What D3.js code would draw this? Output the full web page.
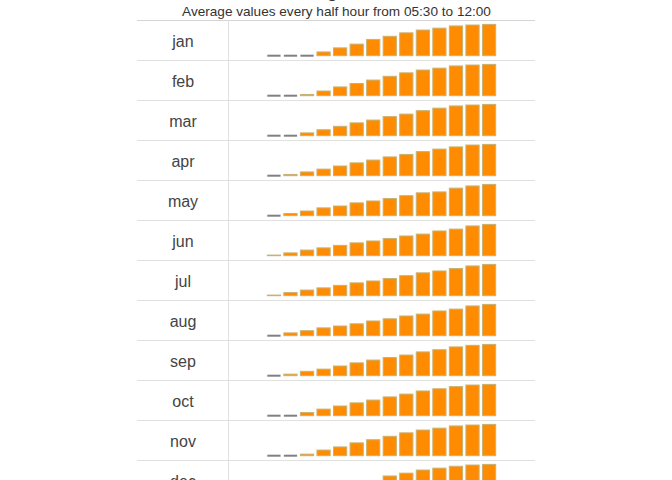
<!DOCTYPE html>
<html>
<head>
<meta charset="utf-8">
<script src="https://cdn.jsdelivr.net/npm/d3@7"></script>
<style>
  html, body { margin: 0; padding: 0; background: #fff; overflow: hidden; }
  svg { display: block; font-family: "Liberation Sans", Arial, sans-serif; }
</style>
</head>
<body>
<svg id="chart" width="672" height="480"></svg>
<script>
const months = ["jan","feb","mar","apr","may","jun","jul","aug","sep","oct","nov","dec"];
const slots = ["05:30","06:00","06:30","07:00","07:30","08:00","08:30","09:00","09:30","10:00","10:30","11:00","11:30","12:00"];
const titleText = "Sunlight";
const subtitleText = "Average values every half hour from 05:30 to 12:00";

const janValues = [0,0,0,12,25,37,52,62,73,82,88,95,98,100];
const febValues = [0,0,4,15,28,39,50,62,73,82,88,95,98,100];
const marValues = [0,0,9,19,30,41,50,61,69,80,88,95,98,100];
const aprValues = [0,4,12,21,31,41,50,60,68,77,85,92,98,100];
const mayValues = [0,7,15,25,31,41,47,55,64,73,76,88,95,100];
const junValues = [2,9,18,25,33,41,47,55,63,69,79,85,95,100];
const julValues = [2,10,18,25,33,41,47,55,64,73,79,87,95,100];
const augValues = [0,9,16,25,31,38,47,54,63,69,79,85,95,100];
const sepValues = [0,5,14,21,31,41,50,58,66,76,83,92,97,100];
const octValues = [0,0,10,21,31,41,50,60,69,79,86,93,98,100];
const novValues = [0,0,5,18,28,41,51,62,73,82,88,95,98,100];
const decValues = [0,0,0,8,18,30,45,63,72,82,88,94,98,100];

const series = [janValues,febValues,marValues,aprValues,mayValues,junValues,
                julValues,augValues,sepValues,octValues,novValues,decValues];
const rows = months.map((m, i) => ({ month: m, values: series[i] }));

const svg = d3.select("#chart");
const W = 672;
const tableLeft = 137, tableRight = 535, divider = 228;
const tableTop = 20, rowH = 40;
const barArea = 31.3, bottomPad = 4.3;

// Title (mostly above the visible area) and subtitle
const title = svg.append("text")
  .attr("x", W / 2).attr("y", -3.5)
  .attr("text-anchor", "start")
  .attr("font-size", 20).attr("fill", "#333")
  .text(titleText);
const gi = titleText.indexOf("g");
const ext = title.node().getExtentOfChar(gi);
title.attr("x", 332 - (ext.x - W / 2) - ext.width / 2);

svg.append("text")
  .attr("x", W / 2 + 0.5).attr("y", 16)
  .attr("text-anchor", "middle")
  .attr("font-size", 13.6).attr("fill", "#333")
  .text(subtitleText);

const x = d3.scaleBand().domain(slots).range([264, 499]).paddingInner(0.2).paddingOuter(0.2);
const rowY = d3.scaleBand().domain(months).range([tableTop, tableTop + rowH * months.length]);

svg.append("line")
  .attr("x1", tableLeft).attr("x2", tableRight)
  .attr("y1", tableTop + 0.5).attr("y2", tableTop + 0.5)
  .attr("stroke", "#d4d4d4");

const g = svg.selectAll("g.row").data(rows).join("g")
  .attr("class", "row")
  .attr("transform", d => `translate(0,${rowY(d.month)})`);

g.append("line")
  .attr("x1", tableLeft).attr("x2", tableRight)
  .attr("y1", rowH + 0.5).attr("y2", rowH + 0.5)
  .attr("stroke", "#e0e0e0");

g.append("line")
  .attr("x1", divider + 0.5).attr("x2", divider + 0.5)
  .attr("y1", 0).attr("y2", rowH)
  .attr("stroke", "#e0e0e0");

g.append("text")
  .attr("x", (tableLeft + divider) / 2 + 0.5)
  .attr("y", rowH / 2 + 6.5)
  .attr("text-anchor", "middle")
  .attr("font-size", 16).attr("fill", "#444")
  .text(d => d.month);

g.each(function(d) {
  const base = rowH - bottomPad;
  const y = d3.scaleLinear().domain([0, d3.max(d.values)]).range([base, base - barArea]);
  d3.select(this).selectAll("rect.bar")
    .data(d.values.map((v, i) => ({ v, slot: slots[i] }))).join("rect")
    .attr("class", "bar")
    .attr("x", e => x(e.slot))
    .attr("width", x.bandwidth())
    .attr("y", e => e.v > 0 ? y(e.v) : base - 1)
    .attr("height", e => e.v > 0 ? base - y(e.v) : 2)
    .attr("fill", e => e.v > 0 ? "#ff8c00" : "#808080")
    .attr("stroke", e => e.v > 0 ? "#c9b274" : "none")
    .attr("stroke-width", 1);
});
</script>
</body>
</html>
